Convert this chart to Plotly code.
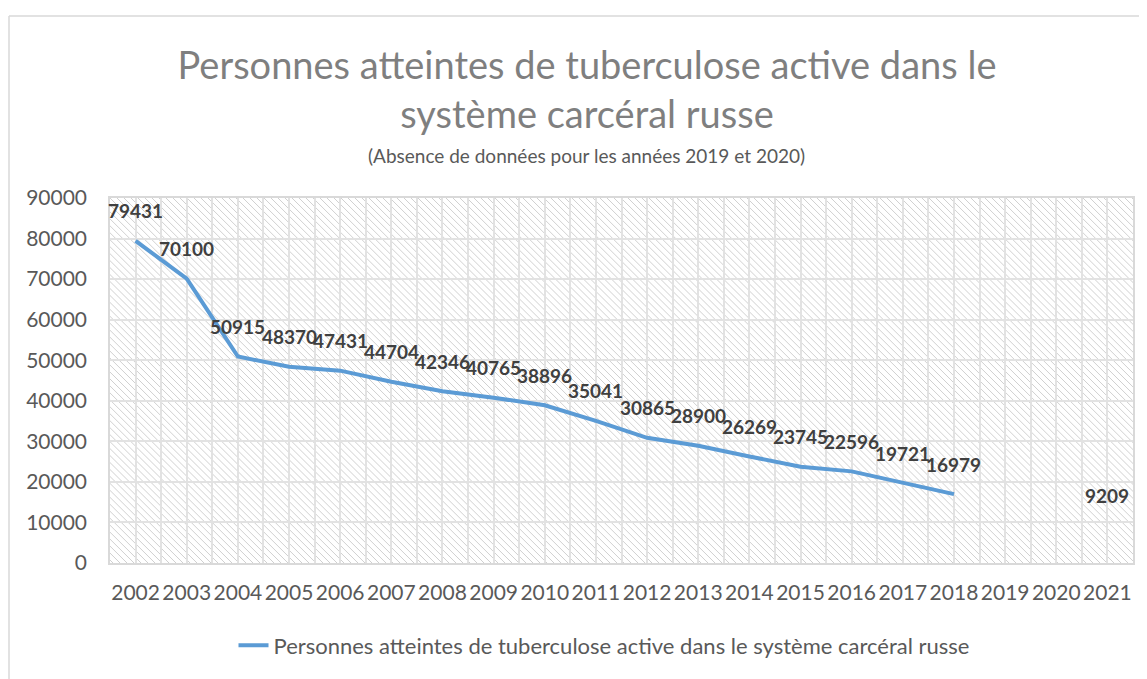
import base64
import plotly.graph_objects as go

years = list(range(2002, 2022))
values = [79431, 70100, 50915, 48370, 47431, 44704, 42346, 40765, 38896, 35041,
          30865, 28900, 26269, 23745, 22596, 19721, 16979, None, None, 9209]
series_name = "Personnes atteintes de tuberculose active dans le système carcéral russe"
title_lines = ["Personnes atteintes de tuberculose active dans le", "système carcéral russe"]
subtitle = "(Absence de données pour les années 2019 et 2020)"

# page body has an 8px margin: figure placed at (8, 8) in the window
OFF = 8
W, H = 1147 - OFF, 679 - OFF
ML, MT = 110 - OFF, 198 - OFF
PR, PB = 1133 - OFF, 565 - OFF
MR, MB = W - PR, H - PB
PW, PH = PR - ML, PB - MT

FONT = "Lato"
BLUE = "#5b9bd5"
GRAY = "#595959"
GRID = "#e2e2e2"


def py(pix):  # page pixel y -> paper y
    return (PB - (pix - OFF)) / PH


def px(pix):  # page pixel x -> paper x
    return (pix - OFF - ML) / PW


svg = (
    f"<svg xmlns='http://www.w3.org/2000/svg' width='{PW}' height='{PH}' viewBox='0 0 {PW} {PH}'>"
    "<defs><pattern id='p' width='7' height='7' patternUnits='userSpaceOnUse'>"
    "<path d='M-1,-1 L8,8 M-1,6 L1,8 M6,-1 L8,1' stroke='#d0d0d0' stroke-width='1'/>"
    "</pattern></defs><rect width='100%' height='100%' fill='url(#p)'/></svg>"
)
svg_uri = "data:image/svg+xml;base64," + base64.b64encode(svg.encode()).decode()

fig = go.Figure()
fig.add_trace(go.Scatter(
    x=years, y=values, mode="lines", name=series_name,
    line=dict(color=BLUE, width=4), connectgaps=False,
))

annotations = []
for x, v in zip(years, values):
    if v is None:
        continue
    annotations.append(dict(
        x=x, y=v, xref="x", yref="y", text=f"{v}", showarrow=False,
        yshift=30, font=dict(family=FONT, size=19, color="#404040", weight="bold"),
    ))
annotations.append(dict(
    x=px(586), y=py(155), xref="paper", yref="paper",
    text=subtitle, showarrow=False, yanchor="middle", xanchor="center",
    font=dict(family=FONT, size=19, color=GRAY),
))

fig.update_layout(
    width=W, height=H,
    margin=dict(l=ML, r=MR, t=MT, b=MB),
    paper_bgcolor="white", plot_bgcolor="white",
    title=dict(
        text="<br>".join(title_lines), x=(587 - OFF) / W, xanchor="center",
        y=1 - 71 / H, yanchor="top", yref="container",
        font=dict(family=FONT, size=38, color="#7f7f7f"),
    ),
    annotations=annotations,
    showlegend=True,
    legend=dict(
        orientation="h", x=px(604), xanchor="center", y=py(648), yanchor="middle",
        font=dict(family=FONT, size=22, color=GRAY),
    ),
    images=[dict(
        source=svg_uri, xref="paper", yref="paper", x=0, y=1, sizex=1, sizey=1,
        xanchor="left", yanchor="top", sizing="stretch", layer="below",
    )],
    shapes=[
        dict(type="line", xref="paper", yref="paper",
             x0=-(ML - 1) / PW, x1=(W - ML + 10) / PW,
             y0=py(15), y1=py(15),
             line=dict(color="#d9d9d9", width=1.5)),
        dict(type="line", xref="paper", yref="paper",
             x0=-(ML - 1) / PW, x1=-(ML - 1) / PW,
             y0=py(15), y1=-(MB + 10) / PH,
             line=dict(color="#d9d9d9", width=1.5)),
    ],
)

fig.update_xaxes(
    range=[2001.5, 2021.5], tickmode="linear", tick0=2002, dtick=1, tickformat="d",
    showgrid=True, gridcolor=GRID, gridwidth=1.5,
    minor=dict(dtick=0.5, showgrid=True, gridcolor=GRID, gridwidth=1.5),
    showline=True, linecolor="#d9d9d9", linewidth=1.5, mirror=True,
    ticks="", ticklabelstandoff=10, zeroline=False,
    tickfont=dict(family=FONT, size=21, color=GRAY),
)
fig.update_yaxes(
    range=[0, 90000], tickmode="linear", tick0=0, dtick=10000, tickformat="d",
    showgrid=True, gridcolor=GRID, gridwidth=1.5,
    showline=True, linecolor="#d9d9d9", linewidth=1.5, mirror=True,
    ticks="", ticklabelstandoff=17, zeroline=False,
    tickfont=dict(family=FONT, size=21, color=GRAY),
)

fig.write_html("out.html")
